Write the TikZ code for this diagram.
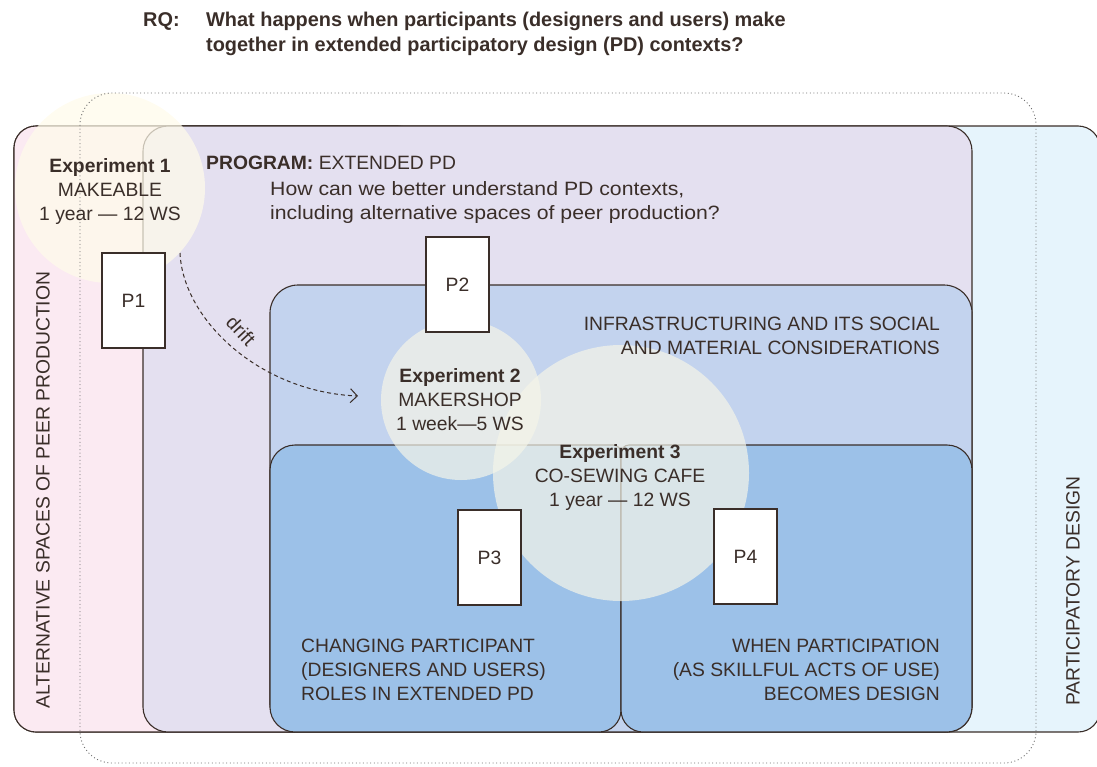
\documentclass[tikz,border=0pt]{standalone}
\usepackage{fontspec}
\setmainfont{Liberation Sans}
\newfontfamily\rqfont{Liberation Sans}
\newfontfamily\widefont[FakeStretch=1.1]{Liberation Sans}
\usetikzlibrary{arrows.meta}
\definecolor{ink}{HTML}{3A2E29}
\definecolor{pinkbg}{HTML}{FBEAF2}
\definecolor{lavbg}{HTML}{E4E0F0}
\definecolor{pdbg}{HTML}{E6F4FC}
\definecolor{infbg}{HTML}{C3D3EE}
\definecolor{botbg}{HTML}{9CC1E8}
\definecolor{circA}{RGB}{255,251,234}
\definecolor{circB}{RGB}{245,245,232}
\definecolor{dotgray}{HTML}{707070}
\begin{document}
\begin{tikzpicture}[x=1pt,y=-1pt,
  font=\fontsize{19.3}{24}\selectfont, text=ink,
  area/.style={draw=ink, line width=1.1pt},
  bubbleA/.style={fill=circA, fill opacity=0.72},
  bubbleB/.style={fill=circB, fill opacity=0.7},
  pbox/.style={draw=ink, line width=1.1pt, fill=white, minimum width=63pt, minimum height=95pt, inner sep=0pt},
  lbl/.style={inner sep=0pt},
  rqtext/.style={inner sep=0pt, anchor=base west, font=\rqfont\bfseries\fontsize{19.9}{25}\selectfont},
  frame/.style={draw=dotgray, line width=0.9pt, dash pattern=on 1pt off 2.6pt, rounded corners=32}
]
\useasboundingbox (0,0) rectangle (1097,766);

% research question
\node[rqtext] (rq) at (143,26) {RQ:};
\node[rqtext] (rq1) at (206,26) {What happens when participants (designers and users) make};
\node[rqtext] (rq2) at (206,51) {together in extended participatory design (PD) contexts?};

% areas
\draw[area, fill=pdbg, rounded corners=22] (14,126) rectangle (1100,732);
\draw[area, fill=pinkbg, rounded corners=22] (14,126) rectangle (420,732);
\draw[area, fill=lavbg, rounded corners=25] (143,126) rectangle (972,732);
\draw[area, fill=infbg, rounded corners=28] (270,285) rectangle (972,732);
\draw[area, fill=botbg] (270,600) [rounded corners=25] -- (270,445) [rounded corners=8] -- (621,445) [rounded corners=22] -- (621,732) [rounded corners=25] -- (270,732) -- cycle;
\draw[area, fill=botbg] (972,600) [rounded corners=25] -- (972,445) [rounded corners=8] -- (621,445) [rounded corners=22] -- (621,732) [rounded corners=25] -- (972,732) -- cycle;

% experiment circles
\fill[bubbleA] (110,188) circle[radius=95pt];
\fill[bubbleB] (461,400) circle[radius=80pt];
\fill[bubbleB] (621,473) circle[radius=128pt];

% dotted frame
\draw[frame] (80,93) rectangle (1036,763);

% publication boxes
\node[pbox] (p1) at (133.5,300.5) {P1};
\node[pbox] (p2) at (457.5,284.5) {P2};
\node[pbox] (p3) at (489.5,557.5) {P3};
\node[pbox] (p4) at (745.5,556.5) {P4};

% texts
\node[lbl, anchor=north, align=center] (e1) at (110,158) {\textbf{Experiment 1}\\MAKEABLE\\1 year — 12 WS};
\node[lbl, anchor=base west] (prog) at (206,169) {\textbf{PROGRAM:} EXTENDED PD};
\node[lbl, anchor=north west, align=left, font=\widefont\fontsize{19.3}{24}\selectfont] (progq) at (270,181) {How can we better understand PD contexts,\\including alternative spaces of peer production?};
\node[lbl, anchor=north east, align=right] (infra) at (940,317) {INFRASTRUCTURING AND ITS SOCIAL\\AND MATERIAL CONSIDERATIONS};
\node[lbl, anchor=north, align=center] (e2) at (460,368) {\textbf{Experiment 2}\\MAKERSHOP\\1 week—5 WS};
\node[lbl, anchor=north, align=center] (e3) at (620,444) {\textbf{Experiment 3}\\CO-SEWING CAFE\\1 year — 12 WS};
\node[lbl, anchor=north west, align=left] (chg) at (301,639) {CHANGING PARTICIPANT\\(DESIGNERS AND USERS)\\ROLES IN EXTENDED PD};
\node[lbl, anchor=north east, align=right] (when) at (940,639) {WHEN PARTICIPATION\\(AS SKILLFUL ACTS OF USE)\\BECOMES DESIGN};
\node[lbl, rotate=90] (alt) at (43,490) {ALTERNATIVE SPACES OF PEER PRODUCTION};
\node[lbl, rotate=90] (pd) at (1073,591) {PARTICIPATORY DESIGN};

% drift arrow
\coordinate (ds) at (180,253);
\coordinate (de) at (358,396);
\draw[ink, line width=1pt, dash pattern=on 4pt off 3pt, -{Straight Barb[length=7pt,width=14pt,line width=1pt]}] (ds) .. controls (183,320) and (260,392) .. (de);
\node[lbl, rotate=-47] (drift) at (241,331) {drift};
\end{tikzpicture}
\end{document}
